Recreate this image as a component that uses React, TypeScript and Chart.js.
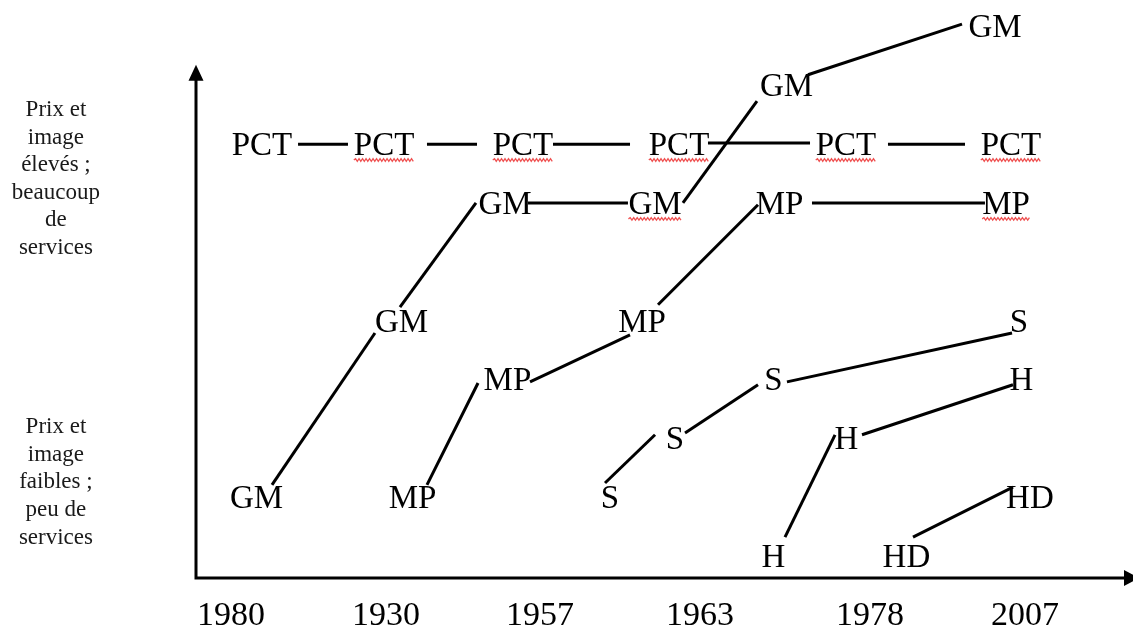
import React, { useEffect, useRef } from "react";
import { Chart, registerables } from "chart.js";

Chart.register(...registerables);

// ---- Data (x: position along the time axis, 0–100; y: positioning level) ----
const yearTicks = [3.74, 20.28, 36.71, 53.79, 71.93, 88.47];
const yearLabels = ["1980", "1930", "1957", "1963", "1978", "2007"];

const sideTicks = [6.41, 1.25];
const sideLabels = [
  ["Prix et", "image", "élevés ;", "beaucoup", "de", "services"],
  ["Prix et", "image", "faibles ;", "peu de", "services"],
];

// Format labels placed in the map
const markText = [
  "PCT", "PCT", "PCT", "PCT", "PCT", "PCT",
  "GM", "GM", "MP", "MP",
  "GM", "GM",
  "GM", "MP", "S",
  "MP", "S", "H",
  "S", "H",
  "GM", "MP", "S", "HD",
  "H", "HD",
];
const markX = [
  7.04, 20.07, 34.9, 51.55, 69.37, 86.98,
  32.98, 48.99, 62.28, 86.45,
  63.02, 85.27,
  21.93, 47.6, 87.83,
  33.24, 61.63, 88.1,
  51.12, 69.42,
  6.46, 23.11, 44.18, 89.0,
  61.63, 75.82,
];
const markY = [
  7, 7, 7, 7, 7, 7,
  6, 6, 6, 6,
  8, 9,
  4, 4, 4,
  3, 3, 3,
  2, 2,
  1, 1, 1, 1,
  0, 0,
];
const spellFlag = [
  false, true, true, true, true, true,
  false, true, false, true,
  false, false,
  false, false, false,
  false, false, false,
  false, false,
  false, false, false, false,
  false, false,
];

// Connecting segments (evolution of each format)
const segX0 = [10.89, 24.65, 38.1, 54.64, 73.85, 35.43, 65.74, 51.97, 65.31, 8.11, 21.77, 24.65, 35.65, 49.31, 43.65, 52.19, 63.07, 62.86, 71.08, 76.52];
const segY0 = [7.0, 7.0, 7.0, 7.02, 7.0, 6.0, 6.0, 6.0, 8.18, 1.21, 4.23, 1.21, 2.96, 4.27, 1.24, 2.09, 2.96, 0.32, 2.06, 0.32];
const segX1 = [16.22, 29.99, 46.32, 65.53, 82.07, 46.1, 84.2, 59.87, 81.75, 19.1, 29.88, 30.1, 46.32, 59.98, 48.99, 59.98, 87.09, 68.2, 87.19, 87.19];
const segY1 = [7.0, 7.0, 7.0, 7.02, 7.0, 6.0, 6.0, 7.73, 9.04, 3.79, 6.0, 2.94, 3.76, 5.97, 2.06, 2.91, 3.79, 2.06, 2.91, 1.17];

const X_MIN = 0;
const X_MAX = 100;
const Y_MIN = -0.374;
const Y_MAX = 9.45;
const Y_ARROW_TIP = 8.35;

const SERIF = "'Liberation Serif', 'Times New Roman', serif";
const MARK_SIZE = 33;

const overlayPlugin = {
  id: "overlay",
  afterDatasetsDraw(chart: any) {
    const ctx = chart.ctx as CanvasRenderingContext2D;
    const xs = chart.scales.x;
    const ys = chart.scales.y;

    // axes with arrow heads
    const ox = xs.getPixelForValue(X_MIN);
    const oy = ys.getPixelForValue(Y_MIN);
    const ty = ys.getPixelForValue(Y_ARROW_TIP);
    const rx = xs.getPixelForValue(X_MAX);
    ctx.save();
    ctx.strokeStyle = "#000";
    ctx.fillStyle = "#000";
    ctx.lineWidth = 3;
    ctx.lineCap = "butt";
    ctx.beginPath();
    ctx.moveTo(ox, oy + 1.5);
    ctx.lineTo(ox, ty + 12);
    ctx.moveTo(ox - 1.5, oy);
    ctx.lineTo(rx - 8, oy);
    ctx.stroke();
    ctx.beginPath();
    ctx.moveTo(ox, ty);
    ctx.lineTo(ox - 7.5, ty + 16);
    ctx.lineTo(ox + 7.5, ty + 16);
    ctx.closePath();
    ctx.fill();
    ctx.beginPath();
    ctx.moveTo(rx + 6, oy);
    ctx.lineTo(rx - 9, oy - 8);
    ctx.lineTo(rx - 9, oy + 8);
    ctx.closePath();
    ctx.fill();

    // format labels
    ctx.font = `${MARK_SIZE}px ${SERIF}`;
    ctx.textAlign = "center";
    ctx.textBaseline = "alphabetic";
    for (let i = 0; i < markText.length; i++) {
      const px = xs.getPixelForValue(markX[i]);
      const py = ys.getPixelForValue(markY[i]);
      const base = py + MARK_SIZE * 0.33;
      ctx.fillStyle = "#000";
      ctx.fillText(markText[i], px, base);
      if (spellFlag[i]) {
        const w = ctx.measureText(markText[i]).width;
        const x0 = px - w / 2;
        const x1 = px + w / 2;
        const uy = base + 5;
        ctx.beginPath();
        ctx.strokeStyle = "rgba(238,72,72,0.95)";
        ctx.lineWidth = 1.3;
        let up = true;
        ctx.moveTo(x0, uy);
        for (let x = x0 + 1.75; x <= x1; x += 1.75) {
          ctx.lineTo(x, uy + (up ? -1.3 : 1.3));
          up = !up;
        }
        ctx.stroke();
      }
    }
    ctx.restore();
  },
};

export default function App() {
  const ref = useRef<HTMLCanvasElement | null>(null);

  useEffect(() => {
    if (!ref.current) return;
    const datasets = segX0.map((_, i) => ({
      type: "scatter" as const,
      data: [
        { x: segX0[i], y: segY0[i] },
        { x: segX1[i], y: segY1[i] },
      ],
      showLine: true,
      borderColor: "#000",
      borderWidth: 3,
      pointRadius: 0,
      pointHoverRadius: 0,
      clip: false as any,
      borderCapStyle: "butt" as const,
    }));

    const chart = new Chart(ref.current, {
      type: "scatter",
      data: { datasets },
      options: {
        animation: false,
        responsive: false,
        devicePixelRatio: 1,
        events: [],
        layout: { padding: { top: 0, right: 0, bottom: 0, left: 0 } },
        plugins: {
          legend: { display: false },
          tooltip: { enabled: false },
          title: { display: false },
        },
        scales: {
          x: {
            type: "linear",
            position: "bottom",
            min: X_MIN,
            max: X_MAX,
            grid: { display: false },
            border: { display: false },
            afterBuildTicks: (scale: any) => {
              scale.ticks = yearTicks.map((v) => ({ value: v }));
            },
            afterFit: (scale: any) => {
              scale.height = 52;
              scale.paddingLeft = 0;
              scale.paddingRight = 0;
            },
            ticks: {
              autoSkip: false,
              maxRotation: 0,
              minRotation: 0,
              padding: 10,
              color: "#000",
              font: { family: SERIF, size: 34 },
              callback: (_v: any, i: number) => yearLabels[i],
            },
          },
          y: {
            type: "linear",
            position: "left",
            min: Y_MIN,
            max: Y_MAX,
            grid: { display: false },
            border: { display: false },
            afterBuildTicks: (scale: any) => {
              scale.ticks = sideTicks.map((v) => ({ value: v }));
            },
            afterFit: (scale: any) => {
              scale.width = 196;
              scale.paddingTop = 0;
              scale.paddingBottom = 0;
            },
            ticks: {
              autoSkip: false,
              crossAlign: "center",
              padding: 88,
              color: "#1a1a1a",
              font: { family: SERIF, size: 23, lineHeight: 1.2 },
              callback: (_v: any, i: number) => sideLabels[i],
            },
          },
        },
      },
      plugins: [overlayPlugin],
    });
    return () => chart.destroy();
  }, []);

  return (
    <div style={{ position: "absolute", left: 0, top: 0, width: 1133, height: 630, background: "#fff" }}>
      <canvas ref={ref} width={1133} height={630} style={{ display: "block" }} />
    </div>
  );
}
